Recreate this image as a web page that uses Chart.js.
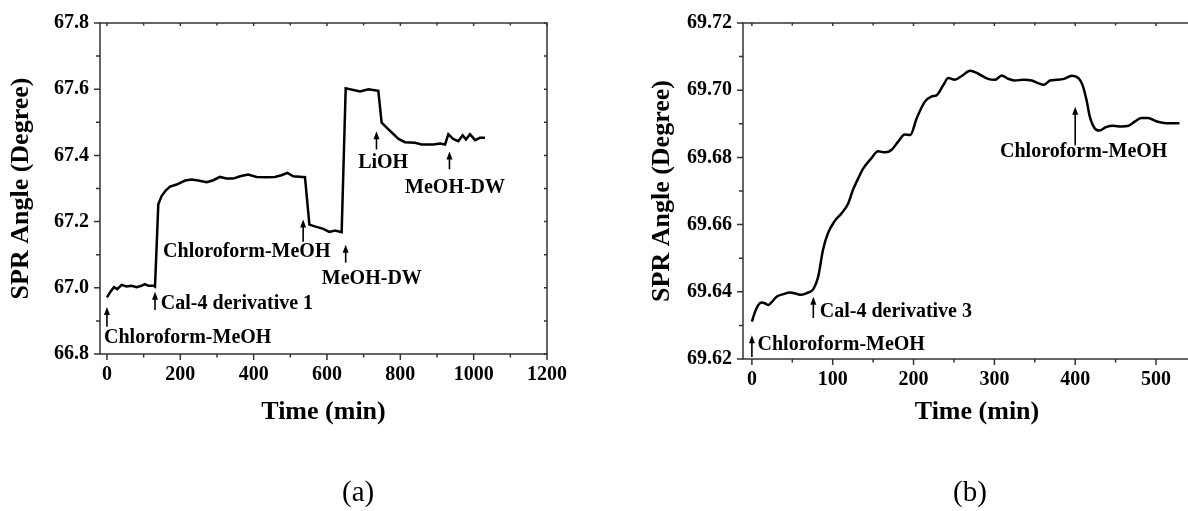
<!DOCTYPE html>
<html>
<head>
<meta charset="utf-8">
<script src="https://cdn.jsdelivr.net/npm/chart.js@4.4.1/dist/chart.umd.min.js"></script>
<style>
    html, body { margin: 0; padding: 0; background: #fff; width: 1188px; height: 511px; overflow: hidden; }
    body { position: relative; font-family: "Liberation Serif", "Times New Roman", serif; }
    canvas { position: absolute; top: 0; }
    #chartA { left: 0; }
    #chartB { left: 620px; }
    .panel { position: absolute; top: 477px; font-size: 29px; line-height: 1; color: #000; }
    #labelA { left: 342px; }
    #labelB { left: 953px; }
</style>
</head>
<body>
<canvas id="chartA" width="594" height="511"></canvas>
<canvas id="chartB" width="600" height="511"></canvas>
<div class="panel" id="labelA">(a)</div>
<div class="panel" id="labelB">(b)</div>
<script>
// panel (a) - time in min, SPR angle in degree
var timeA = [0, 10, 19, 28, 40, 53, 67, 81, 94, 103, 113, 128, 131, 140, 149, 160, 172, 190, 213, 231,
    249, 272, 290, 308, 326, 344, 363, 385, 408, 435, 458, 476, 492, 508, 540, 552, 571, 590, 606, 622,
    640, 651, 690, 713, 740, 749, 772, 795, 813, 840, 858, 890, 908, 922, 931, 944, 958, 970, 979, 990,
    1004, 1017, 1031];
var angleA = [66.971, 66.989, 67.002, 66.996, 67.009, 67.004, 67.006, 67.002, 67.006, 67.011, 67.006, 67.006,
    67.004, 67.252, 67.277, 67.294, 67.306, 67.312, 67.324, 67.327, 67.324, 67.319, 67.325, 67.335, 67.330,
    67.330, 67.337, 67.342, 67.335, 67.334, 67.335, 67.340, 67.347, 67.337, 67.334, 67.191, 67.184, 67.178,
    67.169, 67.173, 67.168, 67.603, 67.593, 67.600, 67.595, 67.499, 67.474, 67.450, 67.440, 67.438, 67.433,
    67.433, 67.436, 67.433, 67.464, 67.450, 67.443, 67.461, 67.448, 67.464, 67.446, 67.453, 67.453];

// panel (b)
var timeB = [0, 4, 8, 12, 16, 20, 24, 31, 39, 47, 55, 61, 68, 76, 82, 88, 94, 102, 111, 119,
    125, 132, 138, 148, 156, 165, 173, 181, 189, 196, 204, 214, 222, 229, 237, 243, 251, 260, 270, 280,
    293, 301, 309, 317, 325, 336, 346, 354, 361, 369, 377, 385, 396, 404, 409, 414, 418, 424, 430, 438,
    447, 457, 466, 474, 482, 490, 501, 513, 529];
var angleB = [69.6311, 69.6341, 69.6361, 69.6368, 69.6366, 69.6361, 69.6368, 69.6386, 69.6393, 69.6398,
    69.6394, 69.6391, 69.6396, 69.6408, 69.6445, 69.6525, 69.6574, 69.6609, 69.6634, 69.6662,
    69.6703, 69.6740, 69.6768, 69.6798, 69.6818, 69.6815, 69.6823, 69.6847, 69.6868, 69.6867,
    69.6917, 69.6966, 69.6981, 69.6986, 69.7016, 69.7036, 69.7031, 69.7043, 69.7058, 69.7049,
    69.7033, 69.7031, 69.7044, 69.7034, 69.7029, 69.7031, 69.7029, 69.7021, 69.7016, 69.7029,
    69.7031, 69.7033, 69.7043, 69.7036, 69.7016, 69.6971, 69.6922, 69.6887, 69.6880, 69.6890,
    69.6894, 69.6892, 69.6894, 69.6907, 69.6917, 69.6917, 69.6907, 69.6902, 69.6902];

// injection notes, anchored in data units
var notesA = ['Chloroform-MeOH', 'Cal-4 derivative 1', 'Chloroform-MeOH', 'MeOH-DW', 'LiOH', 'MeOH-DW'];
var noteTimeA = [-8, 147, 153, 586, 685, 813];
var noteAngleA = [66.848, 66.952, 67.109, 67.027, 67.379, 67.303];
var arrowTimeA = [0, 131, 535, 651, 735, 934];
var arrowFromA = [66.882, 66.933, 67.139, 67.076, 67.418, 67.358];
var arrowToA = [66.942, 66.988, 67.206, 67.130, 67.473, 67.412];

var notesB = ['Chloroform-MeOH', 'Cal-4 derivative 3', 'Chloroform-MeOH'];
var noteTimeB = [7, 84, 307];
var noteAngleB = [69.6242, 69.6340, 69.6817];
var arrowTimeB = [0, 76, 400];
var arrowFromB = [69.6206, 69.6322, 69.6836];
var arrowToB = [69.6271, 69.6385, 69.6951];

var serif = '"Liberation Serif", "Times New Roman", serif';
Chart.defaults.font.family = serif;
Chart.defaults.color = '#000';

function toPoints(xs, ys) {
    var pts = [];
    for (var i = 0; i < xs.length; i++) {
        pts.push({ x: xs[i], y: ys[i] });
    }
    return pts;
}

function isMajor(v, step) {
    return Math.abs(v / step - Math.round(v / step)) < 1e-6;
}

// ticks on whole multiples of the step, not starting at min
function stepTicks(step) {
    return function (s) {
        var out = [];
        var n0 = Math.ceil(s.min / step - 1e-9), n1 = Math.floor(s.max / step + 1e-9);
        for (var i = n0; i <= n1; i++) {
            out.push({ value: i * step });
        }
        s.ticks = out;
    };
}

// frame, minor ticks and the arrow notes
function framePlugin(cfg) {
    return {
        id: 'frame',
        afterDraw: function (chart) {
            var ctx = chart.ctx, a = chart.chartArea;
            var xs = chart.scales.x, ys = chart.scales.y;
            var i, v, p;
            ctx.save();
            ctx.strokeStyle = '#333';
            ctx.lineWidth = 1.5;
            ctx.strokeRect(a.left, a.top, a.right - a.left, a.bottom - a.top);

            ctx.beginPath();
            var n0 = Math.ceil(xs.min / cfg.xMinor - 1e-9), n1 = Math.floor(xs.max / cfg.xMinor + 1e-9);
            for (i = n0; i <= n1; i++) {
                v = i * cfg.xMinor;
                p = xs.getPixelForValue(v);
                var big = isMajor(v, cfg.xMajor);
                ctx.moveTo(p, a.bottom);
                ctx.lineTo(p, a.bottom + (big ? 6 : 3.5));
                ctx.moveTo(p, a.top);
                ctx.lineTo(p, a.top + (big ? 3 : 2.5));
            }
            n0 = Math.ceil(ys.min / cfg.yMinor - 1e-9);
            n1 = Math.floor(ys.max / cfg.yMinor + 1e-9);
            for (i = n0; i <= n1; i++) {
                v = i * cfg.yMinor;
                p = ys.getPixelForValue(v);
                var bigY = isMajor(v, cfg.yMajor);
                ctx.moveTo(a.left, p);
                ctx.lineTo(a.left - (bigY ? 6 : 4), p);
                ctx.moveTo(a.right, p);
                ctx.lineTo(a.right - 3, p);
            }
            ctx.stroke();

            // arrows
            ctx.strokeStyle = '#000';
            ctx.fillStyle = '#000';
            ctx.lineWidth = 1.6;
            for (i = 0; i < cfg.arrowTime.length; i++) {
                var ax = xs.getPixelForValue(cfg.arrowTime[i]);
                var yb = ys.getPixelForValue(cfg.arrowFrom[i]);
                var yt = ys.getPixelForValue(cfg.arrowTo[i]);
                ctx.beginPath();
                ctx.moveTo(ax, yb);
                ctx.lineTo(ax, yt + 6);
                ctx.stroke();
                ctx.beginPath();
                ctx.moveTo(ax, yt);
                ctx.lineTo(ax - 3, yt + 8);
                ctx.lineTo(ax + 3, yt + 8);
                ctx.closePath();
                ctx.fill();
            }

            // note texts
            ctx.font = 'bold 20px ' + serif;
            ctx.textAlign = 'left';
            ctx.textBaseline = 'middle';
            for (i = 0; i < cfg.notes.length; i++) {
                ctx.fillText(cfg.notes[i], xs.getPixelForValue(cfg.noteTime[i]), ys.getPixelForValue(cfg.noteAngle[i]));
            }
            ctx.restore();
        }
    };
}

function makeChart(id, times, values, cfg) {
    return new Chart(document.getElementById(id), {
        type: 'line',
        data: {
            datasets: [{
                data: toPoints(times, values),
                borderColor: '#000',
                borderWidth: 2.5,
                pointRadius: 0,
                fill: false,
                tension: cfg.tension,
                cubicInterpolationMode: cfg.smooth ? 'monotone' : 'default'
            }]
        },
        options: {
            responsive: false,
            animation: false,
            devicePixelRatio: 1,
            layout: { padding: cfg.padding },
            plugins: { legend: { display: false }, tooltip: { enabled: false } },
            scales: {
                x: {
                    type: 'linear',
                    min: cfg.xMin,
                    max: cfg.xMax,
                    afterBuildTicks: stepTicks(cfg.xMajor),
                    afterFit: function (s) { s.height = cfg.xHeight; },
                    grid: { display: false, drawTicks: false },
                    border: { display: false },
                    ticks: {
                        autoSkip: false,
                        maxRotation: 0,
                        padding: 9,
                        color: '#000',
                        font: { size: 20, weight: 'bold' },
                        callback: function (v) { return String(Math.round(v)); }
                    },
                    title: {
                        display: true,
                        text: 'Time (min)',
                        color: '#000',
                        font: { size: 26, weight: 'bold', lineHeight: 1.2 },
                        padding: { top: 0, bottom: 1 }
                    }
                },
                y: {
                    min: cfg.yMin,
                    max: cfg.yMax,
                    afterBuildTicks: stepTicks(cfg.yMajor),
                    afterFit: function (s) { s.width = cfg.yWidth; },
                    grid: { display: false, drawTicks: false },
                    border: { display: false },
                    ticks: {
                        autoSkip: false,
                        padding: 11,
                        color: '#000',
                        font: { size: 20, weight: 'bold' },
                        callback: function (v) { return v.toFixed(cfg.yDigits); }
                    },
                    title: {
                        display: true,
                        text: 'SPR Angle (Degree)',
                        color: '#000',
                        font: { size: 26, weight: 'bold', lineHeight: 1.2 },
                        padding: { top: cfg.yTitlePad, bottom: 0 }
                    }
                }
            }
        },
        plugins: [framePlugin(cfg)]
    });
}

makeChart('chartA', timeA, angleA, {
    tension: 0, smooth: false,
    padding: { left: 0, top: 23, right: 47, bottom: 82 },
    xMin: -19, xMax: 1200, xMajor: 200, xMinor: 100, xHeight: 75,
    yMin: 66.8, yMax: 67.8, yMajor: 0.2, yMinor: 0.1, yWidth: 100, yDigits: 1, yTitlePad: 6,
    notes: notesA, noteTime: noteTimeA, noteAngle: noteAngleA,
    arrowTime: arrowTimeA, arrowFrom: arrowFromA, arrowTo: arrowToA
});

makeChart('chartB', timeB, angleB, {
    tension: 0.4, smooth: true,
    padding: { left: 0, top: 23, right: 9, bottom: 82 },
    xMin: -11, xMax: 568, xMajor: 100, xMinor: 50, xHeight: 70,
    yMin: 69.62, yMax: 69.72, yMajor: 0.02, yMinor: 0.01, yWidth: 123, yDigits: 2, yTitlePad: 27,
    notes: notesB, noteTime: noteTimeB, noteAngle: noteAngleB,
    arrowTime: arrowTimeB, arrowFrom: arrowFromB, arrowTo: arrowToB
});
</script>
</body>
</html>
